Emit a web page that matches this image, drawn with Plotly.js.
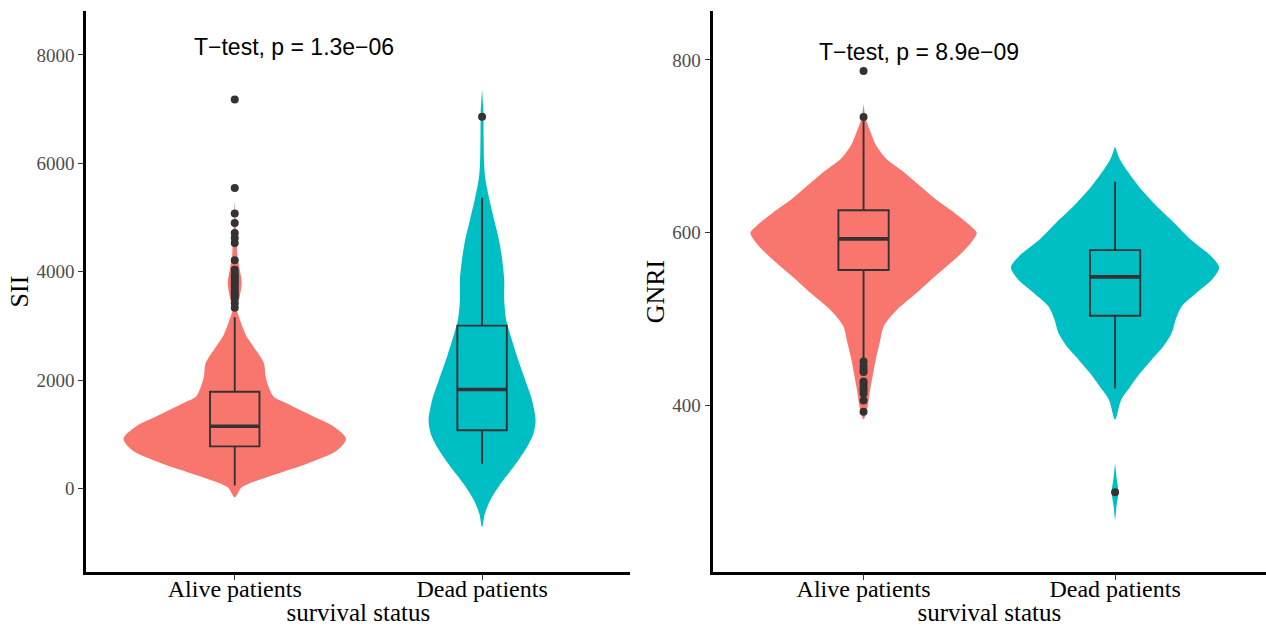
<!DOCTYPE html>
<html>
<head>
<meta charset="utf-8">
<script src="https://cdn.plot.ly/plotly-3.0.1.min.js"></script>
<style>html,body{margin:0;padding:0;background:#fff}#chart{width:1266px;height:626px}</style>
</head>
<body>
<div id="chart"></div>
<script>
// ---------- data ----------
const categories = ["Alive patients", "Dead patients"];
const groupColors = ["#F8766D", "#00BFC4"];

// SII panel: violin density profiles (value, relative density)
const siiAliveVals = [-161, 24, 210, 457, 704, 920, 1136, 1383, 1568, 1691, 1876, 2061, 2309, 2617, 2802, 2926, 3173, 3296, 3543, 3790, 4037, 4284, 4531, 4900, 5300];
const siiAliveDens = [0, .063, .289, .650, .921, 1, .894, .650, .470, .350, .304, .277, .262, .169, .108, .081, .036, .018, .045, .063, .045, .024, .018, .009, 0];
const siiDeadVals = [-716, -469, -222, 24, 272, 519, 765, 1012, 1259, 1630, 2000, 2370, 2741, 3111, 3481, 3852, 4222, 4593, 4963, 5333, 5704, 6012, 6500, 6938, 7370];
const siiDeadDens = [0, .024, .072, .145, .235, .325, .404, .461, .481, .449, .388, .325, .268, .217, .199, .199, .181, .151, .108, .066, .030, .018, .014, .012, 0];
// SII box stats [q1, median, q3, lowerWhisker, upperWhisker]
const siiAliveBox = [778, 1148, 1784, 56, 3160];
const siiDeadBox = [1074, 1827, 3006, 457, 5364];
const siiAliveOutliers = [3333, 3420, 3512, 3560, 3605, 3660, 3728, 3780, 3821, 3870, 3914, 3960, 4037, 4210, 4531, 4623, 4716, 4901, 5074, 5543, 7179];
const siiDeadOutliers = [6858];

// GNRI panel
const gnriAliveVals = [384, 399, 415, 434, 453, 473, 492, 511, 531, 550, 569, 588, 600, 608, 623, 639, 654, 670, 685, 700, 716, 731, 749];
const gnriAliveDens = [0, .036, .054, .080, .107, .143, .179, .295, .473, .634, .804, .946, 1, .946, .804, .634, .500, .357, .205, .116, .063, .021, 0];
const gnriDeadVals = [268, 283, 300, 318, 334, 384, 407, 422, 438, 453, 469, 484, 500, 515, 531, 546, 560, 573, 592, 612, 631, 650, 670, 685, 700];
const gnriDeadDens = [0, .012, .029, .012, 0, 0, .054, .134, .223, .321, .429, .500, .536, .589, .723, .857, .920, .848, .670, .518, .366, .232, .116, .042, 0];
const gnriAliveBox = [557, 593, 626, 453, 729];
const gnriDeadBox = [504, 549, 580, 420, 659];
const gnriAliveOutliers = [451, 446, 442, 439, 428, 425, 421, 418, 414, 406, 393, 734, 787];
const gnriDeadOutliers = [300];

const tests = ["T\u2212test, p = 1.3e\u221206", "T\u2212test, p = 8.9e\u221209"];
const yTitles = ["SII", "GNRI"];
const xTitle = "survival status";

// ---------- drawing ----------
const HALF = 0.45, BOXW = 0.2;
const traces = [];
function violin(pos, vals, dens, color, xa, ya) {
  // split the profile into separate pieces where the density is zero on consecutive points
  const segs = [];
  let cur = [];
  for (let i = 0; i < vals.length; i++) {
    cur.push(i);
    if (dens[i] === 0 && i > 0 && cur.length > 1) { segs.push(cur); cur = [i]; }
  }
  if (cur.length > 1) segs.push(cur);
  segs.forEach(seg => {
    if (seg.every(i => dens[i] === 0)) return;
    const xs = [], ys = [];
    seg.forEach(i => { xs.push(pos + dens[i] * HALF); ys.push(vals[i]); });
    seg.slice().reverse().forEach(i => { xs.push(pos - dens[i] * HALF); ys.push(vals[i]); });
    traces.push({type: 'scatter', mode: 'lines', x: xs, y: ys, fill: 'toself', fillcolor: color,
      line: {color: color, width: 0, shape: 'spline', smoothing: 0.8}, xaxis: xa, yaxis: ya, hoverinfo: 'skip', showlegend: false});
  });
}
function box(pos, st, outl, xa, ya) {
  traces.push({type: 'box', x: [pos], q1: [st[0]], median: [st[1]], q3: [st[2]], lowerfence: [st[3]], upperfence: [st[4]],
    width: BOXW, whiskerwidth: 0, boxpoints: false, fillcolor: 'rgba(0,0,0,0)',
    line: {color: '#333333', width: 1.9}, xaxis: xa, yaxis: ya, showlegend: false});
  traces.push({type: 'scatter', mode: 'lines', x: [pos - BOXW / 2, pos + BOXW / 2], y: [st[1], st[1]],
    line: {color: '#333333', width: 3.6}, xaxis: xa, yaxis: ya, showlegend: false, hoverinfo: 'skip'});
  traces.push({type: 'scatter', mode: 'markers', x: outl.map(() => pos), y: outl,
    marker: {color: '#333333', size: 8}, xaxis: xa, yaxis: ya, showlegend: false});
}
violin(1, siiAliveVals, siiAliveDens, groupColors[0], 'x', 'y');
violin(2, siiDeadVals, siiDeadDens, groupColors[1], 'x', 'y');
violin(1, gnriAliveVals, gnriAliveDens, groupColors[0], 'x2', 'y2');
violin(2, gnriDeadVals, gnriDeadDens, groupColors[1], 'x2', 'y2');
// boxes on overlay axes so they sit above the violins
box(1, siiAliveBox, siiAliveOutliers, 'x', 'y3');
box(2, siiDeadBox, siiDeadOutliers, 'x', 'y3');
box(1, gnriAliveBox, gnriAliveOutliers, 'x2', 'y4');
box(2, gnriDeadBox, gnriDeadOutliers, 'x2', 'y4');

const serif = 'Liberation Serif, Times New Roman, serif';
function xax(domain, range, anchor) {
  return {domain: domain, range: range, anchor: anchor, tickmode: 'array', tickvals: [1, 2], ticktext: categories,
    showline: true, linecolor: '#000', linewidth: 3, ticks: 'outside', ticklen: 5, tickcolor: '#333', tickwidth: 1,
    ticklabelstandoff: -12,
    showgrid: false, zeroline: false, tickfont: {family: serif, size: 24, color: '#000'},
    title: {text: xTitle, font: {family: serif, size: 25, color: '#000'}, standoff: 0}, fixedrange: true};
}
function yax(domain, range, anchor, dtick, title) {
  return {domain: domain, range: range, anchor: anchor, dtick: dtick, showline: true, linecolor: '#000', linewidth: 3,
    ticks: 'outside', ticklen: 5, tickcolor: '#333', tickwidth: 1, showgrid: false, zeroline: false,
    tickfont: {family: serif, size: 19, color: '#4D4D4D'},
    title: {text: title, font: {family: serif, size: 26, color: '#000'}, standoff: 1}};
}
const yD = [0.0863, 0.9824];
const yR1 = [-1540, 8810], yR2 = [207.7, 856.5];
const layout = {
  width: 1266, height: 626, margin: {l: 0, r: 0, t: 0, b: 0}, paper_bgcolor: '#fff', plot_bgcolor: '#fff',
  showlegend: false,
  xaxis: xax([0.0682, 0.4980], [0.4, 2.6], 'y'),
  xaxis2: xax([0.5629, 1], [0.4, 2.6], 'y2'),
  yaxis: yax(yD, yR1, 'x', 2000, yTitles[0]),
  yaxis2: yax(yD, yR2, 'x2', 200, yTitles[1]),
  yaxis3: {domain: yD, range: yR1, overlaying: 'y', anchor: 'x', visible: false, showgrid: false, zeroline: false},
  yaxis4: {domain: yD, range: yR2, overlaying: 'y2', anchor: 'x2', visible: false, showgrid: false, zeroline: false},
  annotations: [
    {xref: 'x', yref: 'y', x: 1.24, y: 8150, text: tests[0], showarrow: false, font: {family: 'Liberation Sans, Arial, sans-serif', size: 23, color: '#000'}},
    {xref: 'x2', yref: 'y2', x: 1.22, y: 809, text: tests[1], showarrow: false, font: {family: 'Liberation Sans, Arial, sans-serif', size: 23, color: '#000'}}
  ]
};
Plotly.newPlot('chart', traces, layout, {staticPlot: true});
</script>
</body>
</html>
